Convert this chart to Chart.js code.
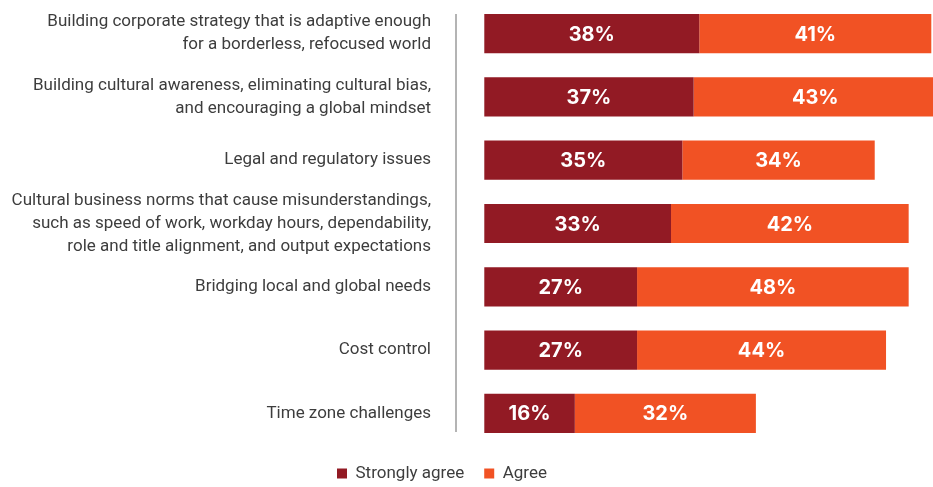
<!DOCTYPE html>
<html>
<head>
<meta charset="utf-8">
<script src="https://cdn.jsdelivr.net/npm/chart.js@4/dist/chart.umd.min.js"></script>
<style>
  body { margin: 0; background: #fff; }
</style>
</head>
<body>
<canvas id="canvas" width="933" height="487"></canvas>
<script>
const categories = [
    ['Building corporate strategy that is adaptive enough', 'for a borderless, refocused world'],
    ['Building cultural awareness, eliminating cultural bias,', 'and encouraging a global mindset'],
    'Legal and regulatory issues',
    ['Cultural business norms that cause misunderstandings,', 'such as speed of work, workday hours, dependability,', 'role and title alignment, and output expectations'],
    'Bridging local and global needs',
    'Cost control',
    'Time zone challenges'
];
const stronglyAgree = [38, 37, 35, 33, 27, 27, 16];
const agree = [41, 43, 34, 42, 48, 44, 32];

const labelFont = "Roboto, 'Liberation Sans', sans-serif";

// thin grey rule left of the bars
const ruleLine = {
    id: 'ruleLine',
    beforeDatasetsDraw(chart) {
        const bars = chart.getDatasetMeta(0).data;
        const first = bars[0], last = bars[bars.length - 1];
        const ctx = chart.ctx;
        ctx.save();
        ctx.strokeStyle = '#9b9b9b';
        ctx.lineWidth = 1.5;
        ctx.beginPath();
        ctx.moveTo(chart.chartArea.left, first.y - first.height / 2);
        ctx.lineTo(chart.chartArea.left, last.y + last.height / 2 - 1);
        ctx.stroke();
        ctx.restore();
    }
};

// white % labels inside each segment
const valueLabels = {
    id: 'valueLabels',
    afterDatasetsDraw(chart) {
        const ctx = chart.ctx;
        ctx.save();
        ctx.fillStyle = '#ffffff';
        ctx.font = "bold 20px Inter, 'Open Sans', sans-serif";
        ctx.textAlign = 'center';
        ctx.textBaseline = 'middle';
        chart.data.datasets.forEach((ds, i) => {
            chart.getDatasetMeta(i).data.forEach((bar, j) => {
                const p = bar.getCenterPoint();
                ctx.fillText(ds.data[j] + '%', p.x, p.y + 1);
            });
        });
        ctx.restore();
    }
};

const myChart = new Chart(
    document.getElementById('canvas'),
    {
        type: 'bar',
        data: {
            labels: categories,
            datasets: [
                {
                    label: 'Strongly agree',
                    data: stronglyAgree,
                    backgroundColor: '#921a24'
                },
                {
                    label: 'Agree',
                    data: agree,
                    backgroundColor: '#f15224'
                }
            ]
        },
        options: {
            indexAxis: 'y',
            responsive: false,
            animation: false,
            categoryPercentage: 1,
            barPercentage: 0.62,
            layout: {
                padding: { top: 2, left: -49, right: 0, bottom: -5 }
            },
            scales: {
                x: {
                    stacked: true,
                    display: false,
                    min: -5,
                    max: 79.3
                },
                y: {
                    stacked: true,
                    grid: { display: false, drawTicks: false },
                    border: { display: false },
                    ticks: {
                        autoSkip: false,
                        padding: 25,
                        color: '#3d3d3d',
                        font: { family: labelFont, size: 17, lineHeight: 1.35 }
                    },
                    afterFit(scale) {
                        scale.width = 505;
                        scale.paddingTop = 0;
                        scale.paddingBottom = 0;
                    }
                }
            },
            plugins: {
                tooltip: { enabled: false },
                legend: {
                    position: 'bottom',
                    labels: {
                        boxWidth: 10,
                        boxHeight: 10,
                        padding: 20,
                        color: '#3d3d3d',
                        font: { family: labelFont, size: 17 }
                    }
                }
            }
        },
        plugins: [ruleLine, valueLabels]
    }
);
</script>
</body>
</html>
